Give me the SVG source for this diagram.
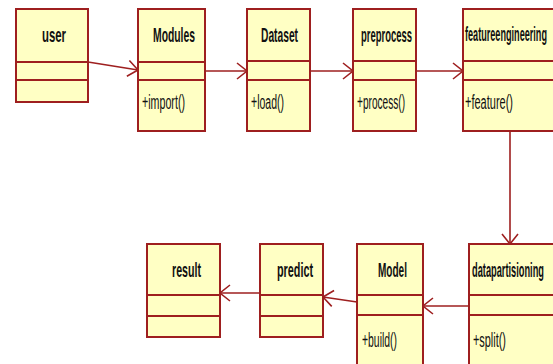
<svg xmlns="http://www.w3.org/2000/svg" width="553" height="364" viewBox="0 0 553 364">
  <defs>
    <marker id="open" viewBox="0 0 12 18" refX="11" refY="9" markerWidth="12" markerHeight="18" orient="auto" markerUnits="userSpaceOnUse">
      <path d="M1,1 L11,9 L1,17" fill="none" stroke="#9e1f1f" stroke-width="1.6"/>
    </marker>
  </defs>
  <style>
    .box { fill: #ffffc4; stroke: #9e1f1f; stroke-width: 2; }
    .div { stroke: #9e1f1f; stroke-width: 2; }
    .name { font-family: "Liberation Sans", Arial, sans-serif; font-weight: bold; font-size: 21px; fill: #111; }
    .op { font-family: "Liberation Sans", Arial, sans-serif; font-size: 20px; fill: #111; }
    .edge { fill: none; stroke: #9e1f1f; stroke-width: 1.6; marker-end: url(#open); }
  </style>
  <rect width="553" height="364" fill="#ffffff"/>

  <!-- connectors -->
  <g id="connectors">
    <path class="edge" d="M88,62 L138,70"/>
    <path class="edge" d="M205,71 L247,71"/>
    <path class="edge" d="M310,71 L353,71"/>
    <path class="edge" d="M416,71 L463,71"/>
    <path class="edge" d="M510,131 L510,244"/>
    <path class="edge" d="M469,306 L423,306"/>
    <path class="edge" d="M357,302 L323,297"/>
    <path class="edge" d="M260,293 L220,293"/>
  </g>

  <!-- top row -->
  <g id="user">
    <rect class="box" x="16" y="9" width="72" height="93"/>
    <line class="div" x1="16" y1="62" x2="88" y2="62"/>
    <line class="div" x1="16" y1="80" x2="88" y2="80"/>
    <text class="name" x="42" y="42" textLength="24" lengthAdjust="spacingAndGlyphs">user</text>
  </g>
  <g id="modules">
    <rect class="box" x="138" y="9" width="67" height="122"/>
    <line class="div" x1="138" y1="62" x2="205" y2="62"/>
    <line class="div" x1="138" y1="80" x2="205" y2="80"/>
    <text class="name" x="153" y="42" textLength="42" lengthAdjust="spacingAndGlyphs">Modules</text>
    <text class="op" x="142" y="109" textLength="43" lengthAdjust="spacingAndGlyphs">+import()</text>
  </g>
  <g id="dataset">
    <rect class="box" x="247" y="9" width="63" height="122"/>
    <line class="div" x1="247" y1="61" x2="310" y2="61"/>
    <line class="div" x1="247" y1="80" x2="310" y2="80"/>
    <text class="name" x="261" y="42" textLength="37" lengthAdjust="spacingAndGlyphs">Dataset</text>
    <text class="op" x="251" y="109" textLength="33" lengthAdjust="spacingAndGlyphs">+load()</text>
  </g>
  <g id="preprocess">
    <rect class="box" x="353" y="9" width="63" height="122"/>
    <line class="div" x1="353" y1="61" x2="416" y2="61"/>
    <line class="div" x1="353" y1="80" x2="416" y2="80"/>
    <text class="name" x="361" y="42" textLength="51" lengthAdjust="spacingAndGlyphs">preprocess</text>
    <text class="op" x="357" y="109" textLength="48" lengthAdjust="spacingAndGlyphs">+process()</text>
  </g>
  <g id="featureengineering">
    <rect class="box" x="463" y="9" width="95" height="122"/>
    <line class="div" x1="463" y1="61" x2="558" y2="61"/>
    <line class="div" x1="463" y1="80" x2="558" y2="80"/>
    <text class="name" x="465" y="41" textLength="82" lengthAdjust="spacingAndGlyphs">featureengineering</text>
    <text class="op" x="465" y="109" textLength="48" lengthAdjust="spacingAndGlyphs">+feature()</text>
  </g>

  <!-- bottom row -->
  <g id="result">
    <rect class="box" x="147" y="244" width="73" height="93"/>
    <line class="div" x1="147" y1="295" x2="220" y2="295"/>
    <line class="div" x1="147" y1="316" x2="220" y2="316"/>
    <text class="name" x="172" y="277" textLength="29" lengthAdjust="spacingAndGlyphs">result</text>
  </g>
  <g id="predict">
    <rect class="box" x="260" y="244" width="63" height="93"/>
    <line class="div" x1="260" y1="295" x2="323" y2="295"/>
    <line class="div" x1="260" y1="316" x2="323" y2="316"/>
    <text class="name" x="277" y="277" textLength="36" lengthAdjust="spacingAndGlyphs">predict</text>
  </g>
  <g id="model">
    <rect class="box" x="357" y="244" width="66" height="124"/>
    <line class="div" x1="357" y1="295" x2="423" y2="295"/>
    <line class="div" x1="357" y1="315" x2="423" y2="315"/>
    <text class="name" x="378" y="277" textLength="29" lengthAdjust="spacingAndGlyphs">Model</text>
    <text class="op" x="362" y="347" textLength="35" lengthAdjust="spacingAndGlyphs">+build()</text>
  </g>
  <g id="datapartisioning">
    <rect class="box" x="469" y="244" width="89" height="124"/>
    <line class="div" x1="469" y1="295" x2="558" y2="295"/>
    <line class="div" x1="469" y1="315" x2="558" y2="315"/>
    <text class="name" x="472" y="277" textLength="72" lengthAdjust="spacingAndGlyphs">datapartisioning</text>
    <text class="op" x="473" y="347" textLength="33" lengthAdjust="spacingAndGlyphs">+split()</text>
  </g>
</svg>
